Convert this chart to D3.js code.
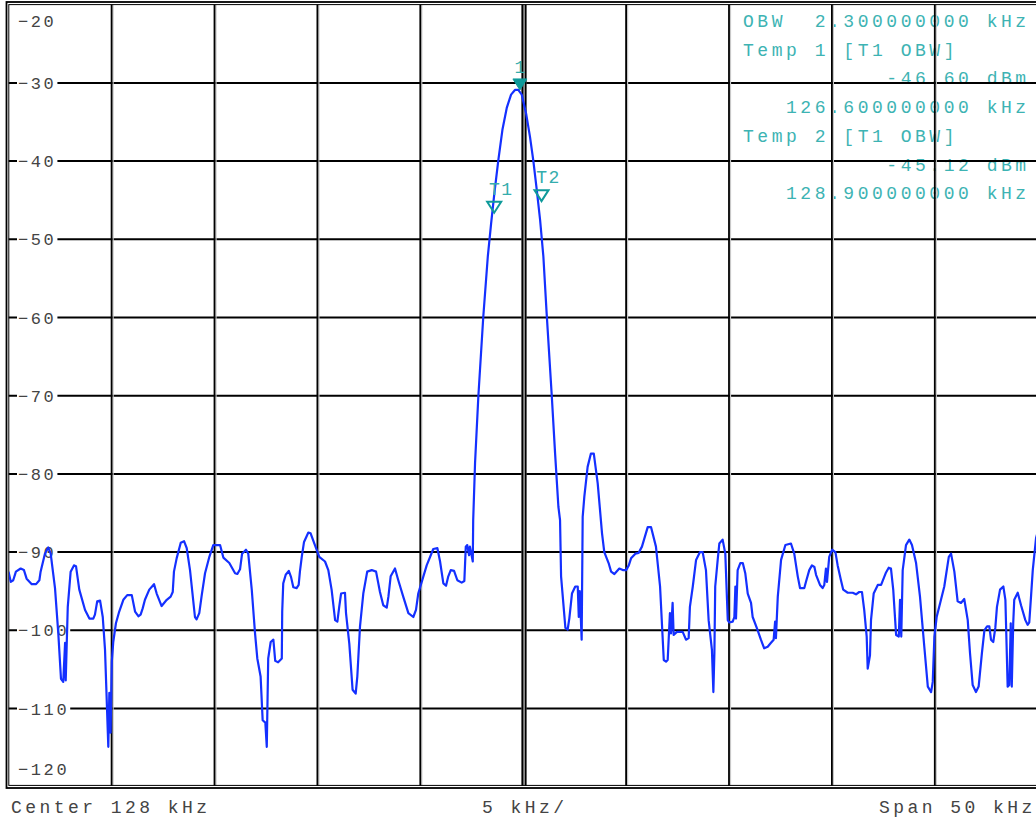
<!DOCTYPE html>
<html>
<head>
<meta charset="utf-8">
<script src="https://cdn.jsdelivr.net/npm/d3@7"></script>
<style>
  html, body { margin: 0; padding: 0; background: #fff; }
  svg { display: block; }
  text { font-family: "Liberation Mono", "DejaVu Sans Mono", monospace; white-space: pre; }
</style>
</head>
<body>
<svg id="chart" width="1036" height="821"></svg>
<script>
// ---- data ----
const freqKHz = [103.00,103.11,103.23,103.36,103.59,103.75,103.88,104.13,104.34,104.50,104.56,104.77,104.93,105.05,105.26,105.42,105.55,105.66,105.75,105.78,105.88,106.02,106.18,106.28,106.44,106.72,106.93,107.12,107.20,107.31,107.45,107.58,107.69,107.85,107.90,107.96,108.02,108.09,108.22,108.38,108.58,108.77,108.99,109.15,109.31,109.42,109.52,109.63,109.84,110.07,110.20,110.44,110.69,110.88,110.98,111.04,111.17,111.37,111.53,111.66,111.82,112.06,112.14,112.27,112.39,112.55,112.76,112.95,113.28,113.44,113.73,114.01,114.12,114.25,114.35,114.54,114.65,114.82,114.98,115.09,115.25,115.35,115.48,115.55,115.58,115.62,115.74,115.87,115.96,116.10,116.28,116.30,116.35,116.47,116.62,116.73,116.84,117.00,117.10,117.16,117.25,117.36,117.57,117.68,117.89,118.10,118.38,118.54,118.70,118.87,118.98,119.07,119.16,119.35,119.40,119.56,119.72,119.87,119.95,120.08,120.24,120.43,120.65,120.86,121.05,121.21,121.38,121.46,121.57,121.78,121.94,122.18,122.43,122.67,122.80,122.91,123.08,123.32,123.64,123.84,123.97,124.13,124.26,124.37,124.49,124.65,124.81,125.02,125.15,125.22,125.29,125.38,125.42,125.56,125.58,125.67,125.83,126.07,126.29,126.45,126.61,126.80,127.00,127.21,127.42,127.61,127.77,127.94,128.15,128.34,128.50,128.67,128.83,128.99,129.15,129.40,129.56,129.72,129.80,129.85,130.06,130.17,130.25,130.38,130.54,130.66,130.71,130.76,130.85,130.90,130.98,131.14,131.30,131.44,131.63,131.84,131.95,132.16,132.28,132.44,132.68,132.85,133.01,133.14,133.25,133.46,133.62,133.78,134.06,134.22,134.46,134.66,134.84,134.95,135.03,135.14,135.19,135.27,135.32,135.48,135.76,135.92,136.05,136.11,136.25,136.41,136.60,136.73,136.89,137.02,137.18,137.25,137.30,137.34,137.46,137.54,137.70,137.83,137.95,138.02,138.19,138.27,138.32,138.35,138.43,138.56,138.68,138.80,138.92,139.08,139.16,139.36,139.56,139.72,139.89,140.05,140.18,140.25,140.29,140.38,140.54,140.75,141.02,141.18,141.35,141.46,141.67,141.75,141.91,142.04,142.16,142.24,142.43,142.56,142.64,142.72,142.77,142.88,143.02,143.18,143.29,143.45,143.56,143.78,144.02,144.18,144.34,144.47,144.58,144.70,144.75,144.86,144.91,145.04,145.24,145.40,145.64,145.77,145.88,145.99,146.13,146.26,146.32,146.38,146.45,146.61,146.77,146.90,147.10,147.29,147.50,147.67,147.83,147.91,147.99,148.10,148.31,148.47,148.69,148.80,148.96,149.12,149.28,149.44,149.61,149.72,149.85,150.01,150.14,150.30,150.42,150.55,150.66,150.74,150.85,150.95,151.03,151.18,151.34,151.44,151.55,151.63,151.70,151.75,151.82,151.87,152.04,152.20,152.41,152.52,152.60,152.69,152.77,152.93,153.00];
const levelDBm = [-92.5,-93.8,-93.6,-92.5,-92.1,-92.3,-93.4,-94.1,-94.1,-93.6,-92.5,-90.2,-89.4,-90.2,-94.6,-100.4,-106.2,-106.6,-101.6,-106.4,-97.0,-92.5,-91.7,-91.8,-94.8,-97.4,-98.5,-98.5,-98.0,-96.3,-96.2,-98.3,-102.5,-114.9,-108.0,-113.1,-104.0,-101.5,-99.1,-97.6,-96.1,-95.5,-95.5,-97.6,-98.2,-98.0,-97.2,-96.1,-94.8,-94.1,-95.3,-96.9,-96.1,-95.7,-95.1,-92.5,-90.8,-88.8,-88.6,-89.5,-92.3,-98.3,-98.6,-97.8,-95.5,-92.7,-90.6,-89.1,-89.1,-90.7,-91.4,-92.7,-92.8,-92.2,-90.2,-89.7,-90.2,-94.8,-100.4,-103.6,-105.9,-111.5,-111.8,-114.9,-110.0,-103.6,-101.5,-101.2,-103.9,-104.1,-103.6,-97.6,-94.0,-92.9,-92.4,-93.2,-94.5,-94.6,-94.2,-92.5,-90.6,-88.7,-87.5,-87.6,-89.1,-90.6,-91.2,-92.3,-94.8,-98.7,-98.9,-97.0,-95.3,-95.2,-97.8,-101.7,-107.6,-108.1,-105.9,-99.5,-95.3,-92.5,-92.3,-92.5,-95.1,-96.8,-97.1,-95.7,-93.1,-92.1,-93.6,-95.7,-97.8,-98.3,-97.4,-95.3,-93.8,-91.7,-89.6,-89.5,-91.2,-94.0,-94.3,-93.1,-92.3,-92.4,-93.6,-93.9,-93.7,-89.3,-89.1,-90.4,-89.3,-91.2,-85.9,-78.6,-70.1,-59.9,-52.2,-48.0,-44.1,-39.9,-36.0,-33.2,-31.5,-30.9,-30.9,-31.5,-33.9,-36.9,-39.9,-43.7,-47.5,-52.2,-59.5,-70.1,-77.4,-84.2,-85.9,-93.1,-99.7,-99.9,-98.5,-95.3,-94.4,-94.4,-98.3,-95.0,-101.2,-85.5,-82.9,-79.1,-77.4,-77.4,-81.2,-87.6,-90.0,-91.4,-92.5,-92.8,-92.1,-92.3,-92.3,-91.7,-90.8,-90.2,-90.1,-89.3,-86.8,-86.8,-89.3,-94.4,-103.8,-104.0,-103.8,-97.8,-100.4,-96.5,-100.6,-100.2,-100.2,-101.2,-101.0,-97.0,-94.4,-91.0,-90.0,-90.0,-92.3,-98.7,-102.5,-107.9,-102.9,-94.4,-91.0,-88.9,-88.4,-90.2,-98.7,-99.0,-98.9,-98.3,-94.4,-98.5,-92.3,-91.4,-91.4,-92.7,-95.3,-96.5,-98.3,-99.7,-101.2,-102.3,-102.1,-101.6,-101.2,-98.9,-101.0,-95.7,-91.0,-89.1,-88.9,-90.2,-93.1,-94.6,-94.6,-93.8,-92.3,-91.7,-91.9,-92.9,-94.2,-94.6,-94.2,-92.1,-93.8,-90.6,-89.7,-90.0,-91.7,-93.6,-94.8,-95.2,-95.2,-95.4,-95.1,-95.1,-97.4,-100.8,-104.9,-103.2,-98.7,-95.3,-94.2,-94.2,-92.6,-92.0,-92.1,-94.8,-100.6,-100.8,-96.1,-100.8,-92.3,-89.1,-88.4,-89.1,-91.4,-95.7,-102.1,-107.2,-107.9,-106.6,-100.8,-98.3,-96.1,-94.4,-90.6,-90.2,-92.5,-96.3,-96.5,-96.0,-98.7,-102.9,-107.0,-107.9,-107.2,-102.9,-100.0,-99.5,-99.5,-101.2,-101.5,-99.7,-97.0,-94.8,-94.4,-96.1,-107.2,-107.0,-99.1,-107.2,-99.1,-96.1,-95.2,-96.8,-98.7,-99.3,-99.0,-95.5,-92.3,-88.2,-87.5];

const yTicks = [-20, -30, -40, -50, -60, -70, -80, -90, -100, -110, -120];
const xTicks = [103, 108, 113, 118, 123, 128, 133, 138, 143, 148, 153];

const markers = [
  { name: "1",  f: 127.85, level: -30.9, filled: true },
  { name: "T1", f: 126.6,  level: -46.6, filled: false },
  { name: "T2", f: 128.9,  level: -45.12, filled: false }
];

const infoLines = [
  "OBW  2.300000000 kHz",
  "Temp 1 [T1 OBW]",
  "          -46.60 dBm",
  "   126.600000000 kHz",
  "Temp 2 [T1 OBW]",
  "          -45.12 dBm",
  "   128.900000000 kHz"
];
const footer = ["Center 128 kHz", "5 kHz/", "Span 50 kHz"];

// ---- drawing ----
const svg = d3.select("#chart");
const x = d3.scaleLinear().domain([103, 153]).range([8.5, 1037.5]);
const y = d3.scaleLinear().domain([-120, -20]).range([786.7, 4.7]);

svg.append("rect").attr("width", 1036).attr("height", 821).attr("fill", "#fff");

// info panel text (under grid)
const info = svg.append("g").attr("fill", "#3db3b3").attr("font-size", 18);
infoLines.forEach((s, i) => {
  info.append("text")
    .attr("x", 743).attr("y", 26.8 + i * 28.75)
    .attr("letter-spacing", 3.53)
    .text(s);
});

// horizontal grid lines
const grid = svg.append("g");
grid.selectAll("line.h").data(yTicks.filter(d => d > -120 && d < -20)).enter()
  .append("line")
  .attr("x1", 8.7).attr("x2", 1036)
  .attr("y1", d => y(d)).attr("y2", d => y(d))
  .attr("stroke", "#000").attr("stroke-width", 2);

// vertical grid lines (black + grey shadow)
const vt = xTicks.filter(d => d > 103 && d < 153 && d !== 128);
grid.selectAll("rect.vg").data(vt).enter().append("rect")
  .attr("x", d => x(d) + 1).attr("y", 4.7).attr("width", 1.3).attr("height", 781)
  .attr("fill", "#c8c8c8");
grid.selectAll("rect.vb").data(vt).enter().append("rect")
  .attr("x", d => x(d) - 0.7).attr("y", 4.7).attr("width", 1.8).attr("height", 781)
  .attr("fill", "#000");
// center line (double)
const cx = x(128);
grid.append("rect").attr("x", cx - 1.5).attr("y", 4.7).attr("width", 5).attr("height", 781).attr("fill", "#9a9a9a");
grid.append("rect").attr("x", cx - 1.5).attr("y", 4.7).attr("width", 1.8).attr("height", 781).attr("fill", "#000");
grid.append("rect").attr("x", cx + 1.9).attr("y", 4.7).attr("width", 1.6).attr("height", 781).attr("fill", "#000");

// frame
svg.append("rect").attr("x", 6.5).attr("y", 2).attr("width", 1040).attr("height", 786)
  .attr("fill", "none").attr("stroke", "#000").attr("stroke-width", 1.8);
svg.append("rect").attr("x", 8.8).attr("y", 4.6).attr("width", 1040).attr("height", 780.8)
  .attr("fill", "none").attr("stroke", "#000").attr("stroke-width", 1);

// y labels with white background
const yl = svg.append("g").attr("fill", "#444").attr("font-size", 17);
yTicks.forEach(v => {
  let yy = y(v);
  if (v === -20) yy = 21;
  if (v === -120) yy = 769;
  const g = yl.append("g");
  const r = g.append("rect").attr("fill", "#fff");
  const t = g.append("text")
    .attr("x", 18).attr("y", yy).attr("dy", "0.36em")
    .attr("letter-spacing", 2.6)
    .text("\u2212" + Math.abs(v));
  const w = t.node().getComputedTextLength();
  r.attr("x", 17).attr("y", yy - 9).attr("width", w + 2).attr("height", 18);
});

// trace
const data = freqKHz.map((f, i) => [f, levelDBm[i]]);
svg.append("defs").append("clipPath").attr("id", "clip")
  .append("rect").attr("x", 9).attr("y", 5).attr("width", 1030).attr("height", 780);
svg.append("path")
  .datum(data)
  .attr("clip-path", "url(#clip)")
  .attr("fill", "none")
  .attr("stroke", "#1430ff")
  .attr("stroke-width", 2.2)
  .attr("stroke-linejoin", "round")
  .attr("d", d3.line().x(d => x(d[0])).y(d => y(d[1])));

// markers
const mk = svg.append("g");
markers.forEach(m => {
  const px = x(m.f), py = y(m.level);
  const w = 7, h = 11;
  mk.append("path")
    .attr("d", `M${px - w},${py - h}L${px + w},${py - h}L${px},${py}Z`)
    .attr("fill", m.filled ? "#0e9a9a" : "none")
    .attr("stroke", "#0e9a9a")
    .attr("stroke-width", m.filled ? 1 : 2)
    .attr("stroke-linejoin", "miter");
  mk.append("text")
    .attr("x", m.filled ? px : px + 7)
    .attr("y", m.filled ? py - 17 : py - 18)
    .attr("text-anchor", "middle")
    .attr("fill", "#35adad")
    .attr("font-size", 18)
    .attr("letter-spacing", m.filled ? 0 : 1.5)
    .text(m.name);
});

// footer
const ft = svg.append("g").attr("fill", "#444").attr("font-size", 18);
[[11, footer[0]], [482, footer[1]], [879, footer[2]]].forEach(([xx, s]) => {
  ft.append("text").attr("x", xx).attr("y", 813).attr("letter-spacing", 3.45).text(s);
});
</script>
</body>
</html>
